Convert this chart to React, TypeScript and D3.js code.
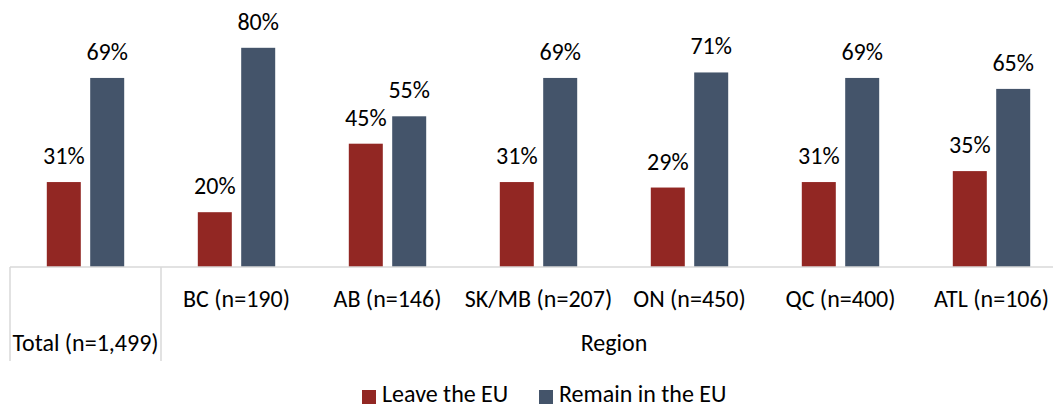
import React from 'react';
import * as d3 from 'd3';

// chart data
const categories = ["Total (n=1,499)", "BC (n=190)", "AB (n=146)", "SK/MB (n=207)", "ON (n=450)", "QC (n=400)", "ATL (n=106)"];
const seriesNames = ["Leave the EU", "Remain in the EU"];
const leave = [31, 20, 45, 31, 29, 31, 35];
const remain = [69, 80, 55, 69, 71, 69, 65];
const groupLabel = "Region";

const colors = ["#922723", "#44546a"];
const font = "Calibri, Carlito, 'Open Sans', sans-serif";
const fs = 24;

const W = 1053;
const H = 406;
const baseY = 267;

const App = () => {
  const x = d3.scaleBand<string>().domain(categories).range([10, 10 + 151 * categories.length]);
  const x1 = d3.scaleBand<string>().domain(seriesNames).range([0, x.bandwidth()]).paddingInner(0.2166).paddingOuter(0.848);
  const y = d3.scaleLinear().domain([0, 100]).range([baseY, baseY - 274]);

  const values = [leave, remain];
  const regionCats = categories.slice(1);
  const regionStart = x(regionCats[0])!;
  const regionEnd = x(regionCats[regionCats.length - 1])! + x.bandwidth();

  return (
    <svg width={W} height={H} style={{ position: 'absolute', left: 0, top: 0, display: 'block' }} fontFamily={font}>
      <rect width={W} height={H} fill="#fff" />

      {/* bars + labels */}
      {seriesNames.map((s, si) => (
        <g key={s}>
          {categories.map((c, i) => {
            const v = values[si][i];
            const bx = x(c)! + x1(s)!;
            return (
              <g key={c}>
                <rect x={bx} y={y(v)} width={x1.bandwidth()} height={baseY - y(v)} fill={colors[si]} />
                <text x={bx + x1.bandwidth() / 2} y={y(v) - 18} textAnchor="middle" fontSize={fs} fill="#000">{v}%</text>
              </g>
            );
          })}
        </g>
      ))}

      {/* axis */}
      <line x1={10} x2={W} y1={baseY} y2={baseY} stroke="#d9d9d9" strokeWidth={1.5} />
      <line x1={10} x2={10} y1={baseY} y2={361} stroke="#d9d9d9" strokeWidth={1.5} />
      <line x1={regionStart} x2={regionStart} y1={baseY} y2={361} stroke="#d9d9d9" strokeWidth={1.5} />

      {/* category labels */}
      {regionCats.map((c) => (
        <text key={c} x={x(c)! + x.bandwidth() / 2} y={307} textAnchor="middle" fontSize={fs} fill="#000">{c}</text>
      ))}
      <text x={x(categories[0])! + x.bandwidth() / 2} y={351} textAnchor="middle" fontSize={fs} fill="#000">{categories[0]}</text>
      <text x={(regionStart + regionEnd) / 2} y={351} textAnchor="middle" fontSize={fs} fill="#000">{groupLabel}</text>

      {/* legend */}
      {seriesNames.map((s, si) => {
        const lx = [362, 539][si];
        return (
          <g key={s}>
            <rect x={lx} y={390} width={14} height={14} fill={colors[si]} />
            <text x={lx + 20} y={402} fontSize={fs} fill="#000">{s}</text>
          </g>
        );
      })}
    </svg>
  );
};

export default App;
